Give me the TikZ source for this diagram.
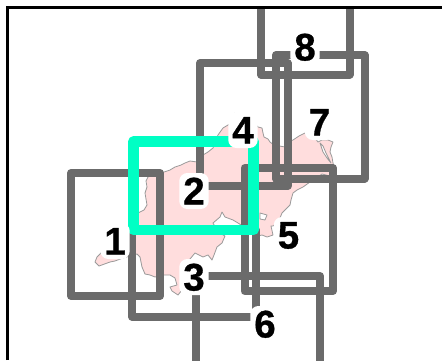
\documentclass[tikz,border=0pt]{standalone}
\usepackage{fontspec}
\setmainfont{Liberation Sans}
\newfontfamily\labfont[UprightFont=*,UprightFeatures={FakeBold=0.8},BoldFont=*]{Liberation Sans Bold}
\definecolor{boxgray}{HTML}{6B6B6B}
\definecolor{hitgreen}{HTML}{00FFC4}
\definecolor{landpink}{HTML}{FFDDDD}
\definecolor{coastgray}{HTML}{9A9A9A}
\tikzset{
  tile/.style={draw=boxgray,line width=8pt,line join=round},
  hit/.style={draw=hitgreen,line width=10.5pt,line join=round},
  land/.style={fill=landpink,draw=coastgray,line width=0.8pt,line join=round},
  lake/.style={fill=white,draw=coastgray,line width=0.8pt,line join=round},
  lab/.style={fill=white,rounded corners=8pt,inner xsep=4pt,inner ysep=4.5pt,text=black,
    font=\fontsize{38.5}{38.5}\labfont,text height=27pt,text depth=0pt},
  frameline/.style={draw=black,line width=3pt,line join=miter}
}
\begin{document}
\begin{tikzpicture}[x=1pt,y=-1pt]
\useasboundingbox (0,0) rectangle (442,360);
\fill[white] (0,0) rectangle (442,360);
\begin{scope}
\clip (0,0) rectangle (442,360);
\path[land] (95,262)--(97,257)--(101,253)--(105,245)--(110,241)--(114,236)--(122,232)--(133,222)--(138,213)--(144,210)--(147,205)--(146,199)--(145,193)--(147,187)--(146,181)--(148,177)--(155,174)--(164,172)--(170,170)--(175,167)--(181,165)--(185,163)--(190,161)--(197,162)--(200,158)--(203,155)--(208,152)--(213,148)--(218,135)--(223,128)--(228,125)--(232,123)--(237,118)--(235,113)--(238,115)--(241,118)--(248,122)--(256,125)--(258,127)--(262,128)--(263,133)--(264,137)--(268,139)--(270,142)--(274,145)--(285,147)--(290,141)--(293,140)--(299,136)--(305,133)--(310,135)--(315,138)--(318,142)--(322,140)--(328,140)--(333,142)--(331,147)--(330,152)--(332,157)--(333,163)--(335,170)--(330,176)--(322,174)--(315,179)--(310,182)--(303,187)--(297,190)--(293,193)--(291,200)--(290,205)--(286,209)--(282,213)--(280,218)--(278,222)--(273,226)--(271,226)--(273,235)--(267,237)--(262,235)--(258,236)--(255,233)--(252,232)--(238,223)--(233,220)--(225,217)--(222,212)--(220,217)--(213,223)--(218,232)--(225,236)--(222,243)--(217,247)--(214,255)--(212,260)--(208,255)--(203,257)--(195,253)--(190,259)--(186,262)--(184,272)--(182,290)--(178,295)--(172,291)--(170,287)--(177,285)--(175,278)--(170,275)--(162,275)--(155,277)--(150,275)--(145,274)--(142,267)--(140,257)--(137,254)--(130,256)--(123,258)--(115,261)--(110,262)--(99,266)--cycle;
\path[lake] (260,213)--(267,215)--(265,220)--(260,219)--cycle;
\path[lake] (320,143)--(323,146)--(326,153)--(331,163)--(327,158)--(323,152)--cycle;
% tiles
\draw[tile] (71,173) rectangle (160,296);
\draw[tile] (200,63) rectangle (287.5,186);
\draw[tile] (196,276) rectangle (320,400);
\draw[tile] (244.5,168) rectangle (333,291);
\draw[tile] (132,230) rectangle (256,316.5);
\draw[tile] (276,55) rectangle (364.5,178.5);
\draw[tile] (261,-50) rectangle (349.5,74.5);
% selected tile
\draw[hit] (133.5,141.5) rectangle (253.5,230);
\end{scope}
% labels
\node[lab] (n1) at (115,241) {1};
\node[lab] (n2) at (194,191) {2};
\node[lab] (n3) at (194,277) {3};
\node[lab] (n4) at (243,130) {4};
\node[lab] (n5) at (288.5,235) {5};
\node[lab] (n6) at (265,324) {6};
\node[lab] (n7) at (319.5,122) {7};
\node[lab] (n8) at (305,47) {8};
% frame
\fill[white] (0,0) rectangle (442,6);
\fill[white] (0,0) rectangle (6,360);
\draw[frameline] (7.5,360) -- (7.5,7.5) -- (442,7.5);
\end{tikzpicture}
\end{document}
